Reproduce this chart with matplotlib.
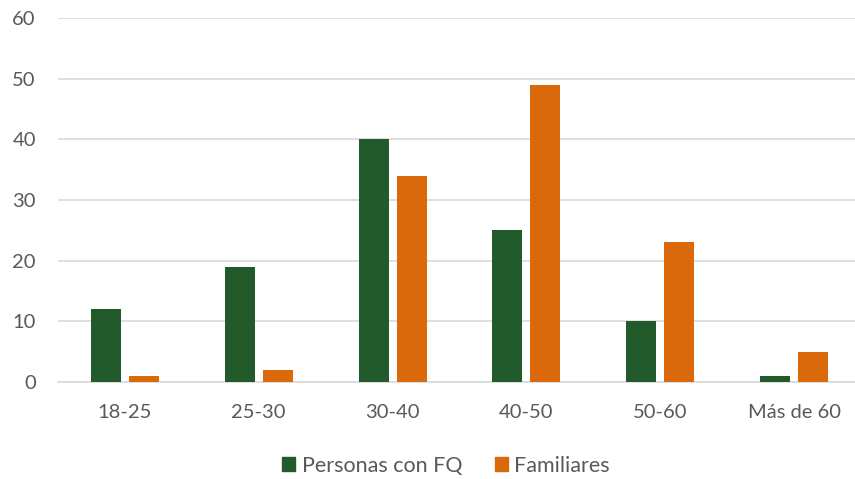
import matplotlib
matplotlib.use("Agg")
import matplotlib.pyplot as plt
import numpy as np
from matplotlib.patches import Patch

categories = ["18-25", "25-30", "30-40", "40-50", "50-60", "Más de 60"]
personas_fq = [12, 19, 40, 25, 10, 1]
familiares = [1, 2, 34, 49, 23, 5]
series_names = ["Personas con FQ", "Familiares"]
colors = ["#225A2B", "#D9690A"]

plt.rcParams["font.family"] = ["Lato", "DejaVu Sans"]
text_color = "#595959"

fig = plt.figure(figsize=(8.55, 4.79), dpi=100)
ax = fig.add_axes([58 / 855, 1 - 382 / 479, 803 / 855, (382 - 18) / 479])

x = np.arange(len(categories))
w = 0.224
off = 0.142
ax.bar(x - off, personas_fq, width=w, color=colors[0], zorder=3)
ax.bar(x + off, familiares, width=w, color=colors[1], zorder=3)

ax.set_xlim(-0.5, len(categories) - 0.5)
ax.set_ylim(0, 60)
ax.set_yticks(range(0, 61, 10))
ax.set_xticks(x)
ax.set_xticklabels(categories)
ax.yaxis.grid(True, color="#D9D9D9", linewidth=1.2, zorder=0)
ax.set_axisbelow(True)
for s in ["top", "right", "left"]:
    ax.spines[s].set_visible(False)
ax.spines["bottom"].set_color("#D9D9D9")
ax.spines["bottom"].set_linewidth(1.2)
ax.tick_params(axis="both", length=0, labelsize=14.5, labelcolor=text_color)
ax.tick_params(axis="x", pad=16)
ax.tick_params(axis="y", pad=16)

handles = [Patch(color=c) for c in colors]
fig.legend(handles, series_names, loc="center", bbox_to_anchor=(446 / 855, 1 - 466 / 479),
           ncol=2, frameon=False, fontsize=15.5, labelcolor=text_color,
           handlelength=0.62, handleheight=0.62, handletextpad=0.3, columnspacing=1.5)

fig.savefig("out.png", dpi=100)
